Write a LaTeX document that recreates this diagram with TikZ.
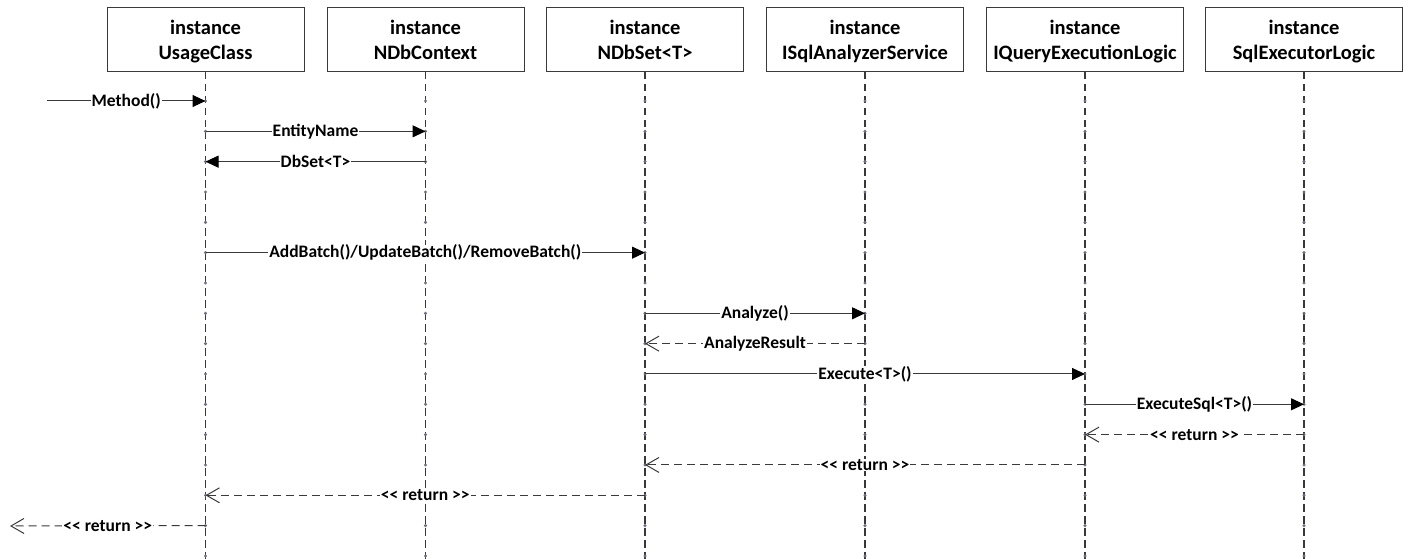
\documentclass[tikz,border=0pt]{standalone}
\usepackage{fontspec}
\setmainfont{Carlito}
\usetikzlibrary{arrows.meta}
\definecolor{lifeln}{HTML}{383838}
\definecolor{msgln}{HTML}{3A3A3A}
\definecolor{tick}{HTML}{6E6E82}
\newcommand\retlabel{\mbox{\textless}\mbox{\textless} return \mbox{\textgreater}\mbox{\textgreater}}
% two-line participant title, set a little below the box centre
\newcommand\objtitle[1]{\rule{0pt}{23.5pt}instance\\#1\strut}
\tikzset{
  objbox/.style={draw=msgln, line width=1pt, minimum width=197pt, minimum height=64pt,
    align=center, font=\fontsize{20.5}{25}\selectfont\bfseries, inner sep=0pt},
  lifeline/.style={draw=lifeln, line width=1.1pt, dash pattern=on 7.5pt off 4.5pt},
  callmsg/.style={draw=msgln, line width=1pt, -{Triangle[length=13pt,width=12pt,color=black]}},
  retmsg/.style={draw=msgln, line width=1pt, dash pattern=on 8pt off 5pt,
    -{Straight Barb[length=13pt,width=15pt,line width=1pt]}},
  msglbl/.style={fill=white, inner xsep=1pt, inner ysep=0pt,
    font=\fontsize{17.5}{19}\selectfont\bfseries, text=black},
  tickdot/.style={fill=tick, draw=none, circle, inner sep=0pt, minimum size=3.4pt}
}
\begin{document}
\begin{tikzpicture}[x=1pt, y=-1pt]
  \useasboundingbox (0,0) rectangle (1408,559);

  % participants
  \node[objbox] (usage) at (205.5,39.5) {\objtitle{UsageClass}};
  \node[objbox] (ctx)   at (425.5,39.5) {\objtitle{NDbContext}};
  \node[objbox] (set)   at (645,39.5)   {\objtitle{NDbSet\textless T\textgreater}};
  \node[objbox] (ana)   at (865,39.5)   {\objtitle{ISqlAnalyzerService}};
  \node[objbox] (qel)   at (1085,39.5)  {\objtitle{IQueryExecutionLogic}};
  \node[objbox] (sql)   at (1304,39.5)  {\objtitle{SqlExecutorLogic}};

  % message rows
  \foreach \k in {0,...,15} {
    \coordinate (r\k) at (0,{101+30.33*\k});
  }
  \coordinate (bottom) at (0,559);

  % lifelines with their slot marks
  \foreach \p in {usage,ctx,set,ana,qel,sql} {
    \draw[lifeline] (\p.south) -- (\p |- bottom);
    \foreach \k in {0,...,15} {
      \node[tickdot] at (\p |- r\k) {};
    }
  }

  % outer caller and outer return target
  \coordinate (caller) at (47,101);
  \coordinate (outer) at (10,526);

  % calls and returns
  \draw[callmsg] (caller) -- node[msglbl] {Method()} (usage |- r0);
  \draw[callmsg] (usage |- r1) -- node[msglbl] {EntityName} (ctx |- r1);
  \draw[callmsg] (ctx |- r2) -- node[msglbl] {DbSet\textless T\textgreater} (usage |- r2);
  \draw[callmsg] (usage |- r5) -- node[msglbl] {AddBatch()/UpdateBatch()/RemoveBatch()} (set |- r5);
  \draw[callmsg] (set |- r7) -- node[msglbl] {Analyze()} (ana |- r7);
  \draw[retmsg]  (ana |- r8) -- node[msglbl] {AnalyzeResult} (set |- r8);
  \draw[callmsg] (set |- r9) -- node[msglbl] {Execute\textless T\textgreater()} (qel |- r9);
  \draw[callmsg] (qel |- r10) -- node[msglbl] {ExecuteSql\textless T\textgreater()} (sql |- r10);
  \draw[retmsg]  (sql |- r11) -- node[msglbl] {\retlabel} (qel |- r11);
  \draw[retmsg]  (qel |- r12) -- node[msglbl] {\retlabel} (set |- r12);
  \draw[retmsg]  (set |- r13) -- node[msglbl] {\retlabel} (usage |- r13);
  \draw[retmsg]  (usage |- r14) -- node[msglbl] {\retlabel} (outer);
\end{tikzpicture}
\end{document}
